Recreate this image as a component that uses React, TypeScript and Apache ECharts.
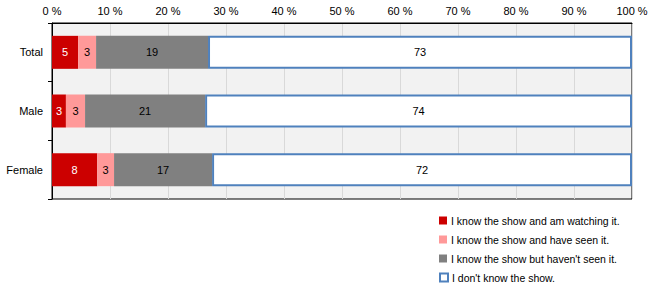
import React, { useEffect, useRef } from "react";
import * as echarts from "echarts";

const categories = ["Total", "Male", "Female"];
const seriesNames = [
  "I know the show and am watching it.",
  "I know the show and have seen it.",
  "I know the show but haven't seen it.",
  "I don't know the show.",
];
const watching = [4.5, 2.4, 7.8];
const seen = [3.1, 3.3, 2.9];
const notSeen = [19.3, 20.7, 16.9];
const dontKnow = [73.1, 73.6, 72.4];
const watchingLabels = [5, 3, 8];
const seenLabels = [3, 3, 3];
const notSeenLabels = [19, 21, 17];
const dontKnowLabels = [73, 74, 72];
const xTicks = [0, 10, 20, 30, 40, 50, 60, 70, 80, 90, 100];

export default function App() {
  const ref = useRef<HTMLDivElement>(null);
  useEffect(() => {
    const chart = echarts.init(ref.current!, null, { renderer: "svg" });
    const font = "Arial, 'Liberation Sans', sans-serif";
    const lbl = (color: string, labels: number[]) => ({
      show: true,
      position: "inside",
      color,
      fontSize: 11,
      fontFamily: font,
      formatter: (p: any) => String(labels[p.dataIndex]),
    });
    const mk = (name: string, data: number[], labels: number[], item: any, labelColor: string) => ({
      name,
      type: "bar",
      stack: "s",
      barWidth: 33,
      data,
      itemStyle: item,
      label: lbl(labelColor, labels),
    });
    const legendTops = [210, 229, 248, 267];
    chart.setOption({
      animation: false,
      grid: {
        left: 52,
        right: 21,
        top: 23,
        bottom: 90,
        show: true,
        backgroundColor: "#f2f2f2",
        borderColor: "#000",
        borderWidth: 1,
      },
      xAxis: {
        type: "value",
        position: "top",
        min: xTicks[0],
        max: xTicks[xTicks.length - 1],
        interval: 10,
        axisLine: { show: true, lineStyle: { color: "#000" } },
        axisTick: { show: false },
        axisLabel: {
          formatter: "{value} %",
          color: "#000",
          fontSize: 11,
          fontFamily: font,
          margin: 7,
        },
        splitLine: { show: true, lineStyle: { color: "#d9d9d9" } },
      },
      yAxis: {
        type: "category",
        data: categories,
        inverse: true,
        axisLine: { show: true, lineStyle: { color: "#000" } },
        axisTick: { show: true, length: 4, lineStyle: { color: "#000" } },
        axisLabel: { color: "#000", fontSize: 11, fontFamily: font, margin: 9 },
      },
      legend: seriesNames.map((n, i) => ({
        orient: "vertical",
        left: 434,
        top: legendTops[i],
        itemWidth: 8,
        itemHeight: 8,
        icon: "rect",
        selectedMode: false,
        textStyle: { color: "#000", fontSize: 10.5, fontFamily: font, padding: [0, 0, 0, -1] },
        data: [n],
      })),
      series: [
        mk(seriesNames[0], watching, watchingLabels, { color: "#cc0000" }, "#fff"),
        mk(seriesNames[1], seen, seenLabels, { color: "#ff9999" }, "#000"),
        mk(seriesNames[2], notSeen, notSeenLabels, { color: "#808080" }, "#000"),
        mk(seriesNames[3], dontKnow, dontKnowLabels, { color: "#fff", borderColor: "#4f81bd", borderWidth: 2 }, "#000"),
      ],
    });
    return () => chart.dispose();
  }, []);
  return <div ref={ref} style={{ width: 653, height: 289, position: "absolute", left: 0, top: 0, background: "#fff" }} />;
}
